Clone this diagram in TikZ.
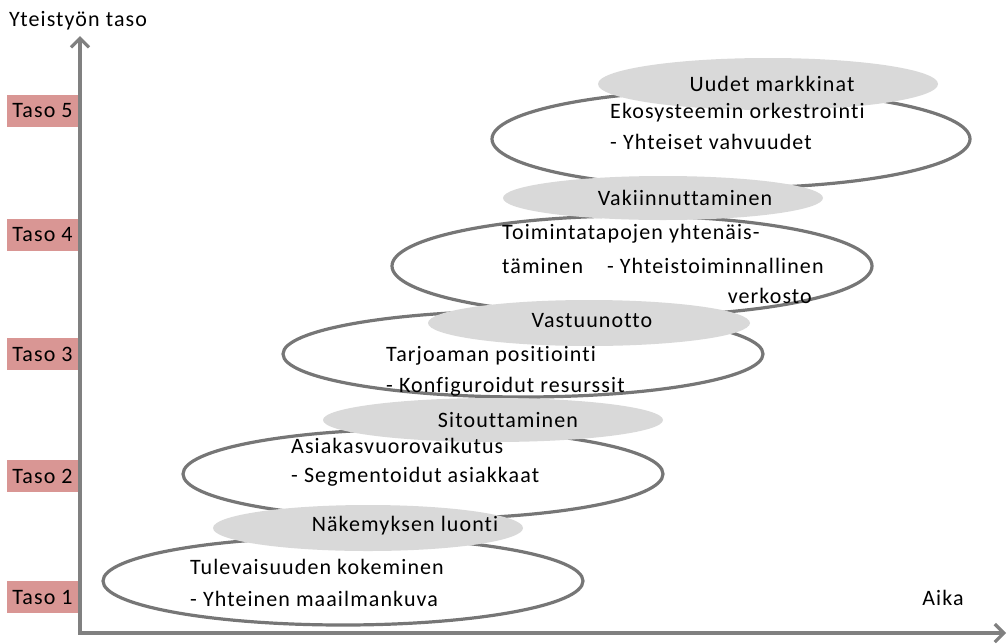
\documentclass[tikz,border=0pt]{standalone}
\usepackage{fontspec}
\setmainfont{Carlito}[Ligatures=NoCommon, LetterSpace=5]
\usetikzlibrary{shapes.geometric,arrows.meta}
\definecolor{axisgray}{RGB}{128,128,128}
\definecolor{rimgray}{RGB}{118,118,118}
\definecolor{phasegray}{RGB}{217,217,217}
\definecolor{levelpink}{RGB}{217,150,148}
\begin{document}
\begin{tikzpicture}[x=1pt,y=-1pt,
  every node/.style={font=\fontsize{22}{30}\selectfont, inner sep=0pt},
  stage/.style={ellipse, draw=rimgray, line width=3.2pt, fill=white},
  phase/.style={ellipse, fill=phasegray},
  level/.style={fill=levelpink, minimum width=71pt, minimum height=32pt, inner sep=0pt},
  axis/.style={draw=axisgray, line width=3.2pt, -{Straight Barb[length=9pt,width=18pt,line width=3.2pt]}},
  txt/.style={anchor=west}]
\useasboundingbox (0,0) rectangle (1008,643);

% level markers on the vertical axis
\node[level] (t5) at (42.5,111) {Taso 5};
\node[level] (t4) at (42.5,235) {Taso 4};
\node[level] (t3) at (42.5,354) {Taso 3};
\node[level] (t2) at (42.5,476) {Taso 2};
\node[level] (t1) at (42.5,597) {Taso 1};

% axes
\coordinate (o) at (80,633);
\coordinate (ytop) at (80,36);
\coordinate (xend) at (1006,633);
\draw[axis] (78.4,633) -- (xend);
\draw[axis] (o) -- (ytop);
\node (ylab) at (78,21) {Yteistyön taso};
\node (xlab) at (943,598) {Aika};

% stages (white ellipses)
\node[stage, minimum width=480pt, minimum height=88pt] (s1) at (343,581) {};
\node[stage, minimum width=480pt, minimum height=90pt] (s2) at (423,474) {};
\node[stage, minimum width=480pt, minimum height=86pt] (s3) at (523,354) {};
\node[stage, minimum width=480pt, minimum height=100pt] (s4) at (632,266) {};
\node[stage, minimum width=478pt, minimum height=98pt] (s5) at (731,139) {};

% transitions (grey ellipses)
\node[phase, minimum width=310pt, minimum height=46pt] (p1) at (368,528) {};
\node[phase, minimum width=340pt, minimum height=44pt] (p2) at (493,420) {};
\node[phase, minimum width=322pt, minimum height=46pt] (p3) at (589,323) {};
\node[phase, minimum width=320pt, minimum height=44pt] (p4) at (663,198) {};
\node[phase, minimum width=340pt, minimum height=52pt] (p5) at (768,84) {};

% transition labels
\node at ([xshift=37pt,yshift=2pt]p1) {Näkemyksen luonti};
\node at ([xshift=15pt]p2) {Sitouttaminen};
\node at ([xshift=3pt,yshift=2pt]p3) {Vastuunotto};
\node at ([xshift=22pt]p4) {Vakiinnuttaminen};
\node at ([xshift=4pt]p5) {Uudet markkinat};

% stage texts
\node[txt] at (190,567) {Tulevaisuuden kokeminen};
\node[txt] at (190,599) {- Yhteinen maailmankuva};
\node[txt] at (291,446) {Asiakasvuorovaikutus};
\node[txt] at (291,477) {- Segmentoidut asiakkaat};
\node[txt] at (386,356) {Tarjoaman positiointi};
\node[txt] at (386,387) {- Konfiguroidut resurssit};
\node[txt] at (502,234) {Toimintatapojen yhtenäis-};
\node[txt] at (502,266) {täminen\hspace{24pt}- Yhteistoiminnallinen};
\node[anchor=east] at (812,296) {verkosto};
\node[txt] at (610,113) {Ekosysteemin orkestrointi};
\node[txt] at (610,142) {- Yhteiset vahvuudet};
\end{tikzpicture}
\end{document}
